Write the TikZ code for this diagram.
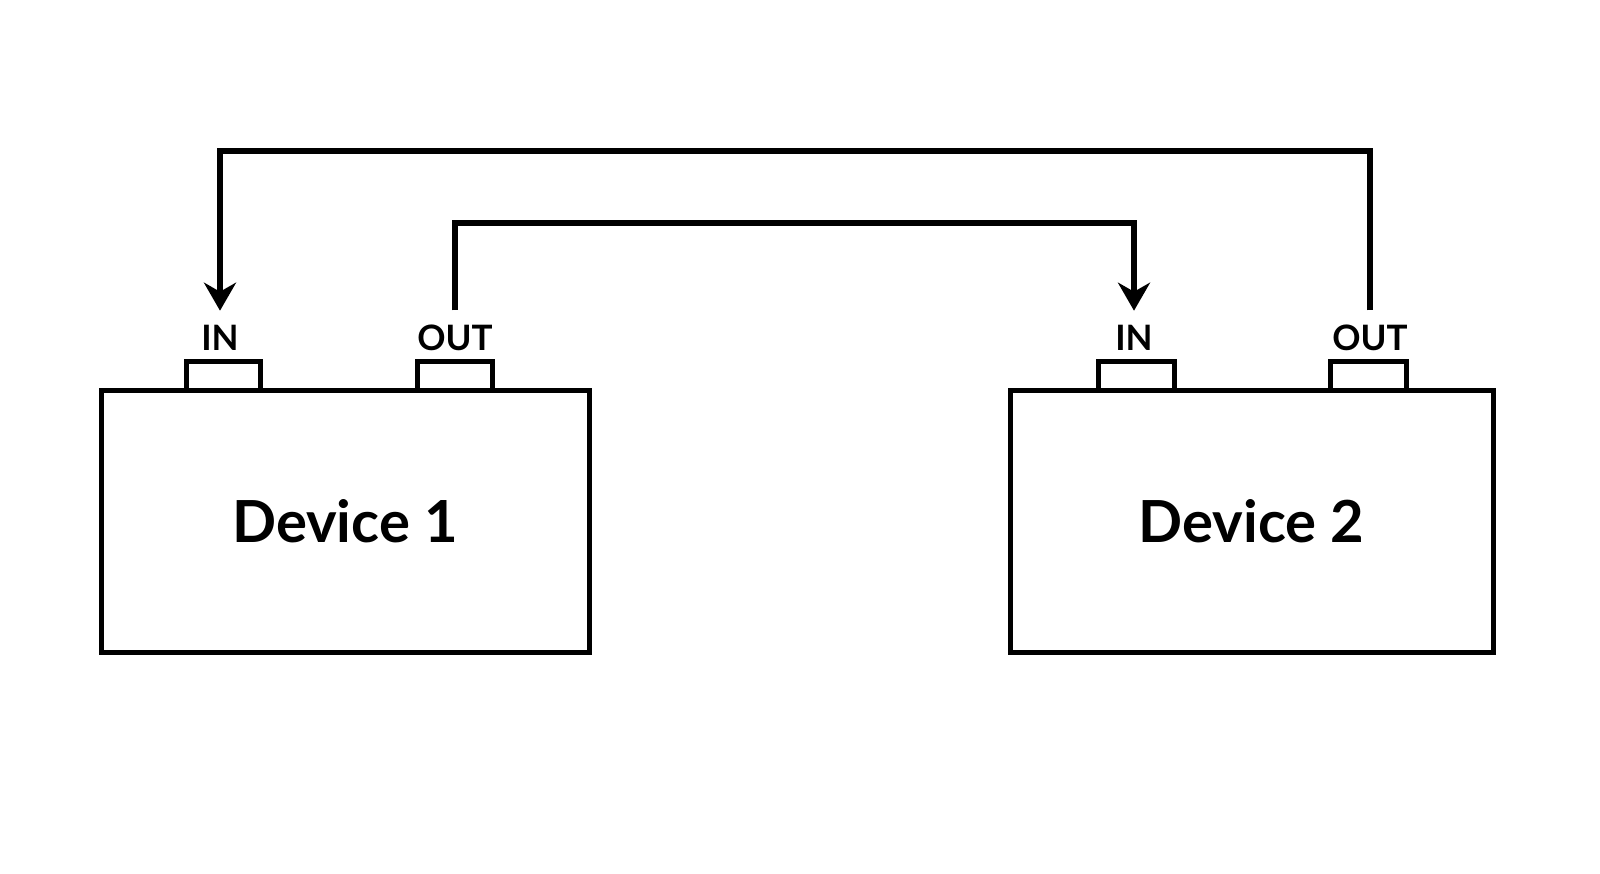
\documentclass[tikz,border=0pt]{standalone}
\usepackage{fontspec}
\setmainfont{Lato}[BoldFont={Lato Bold}]
\usetikzlibrary{arrows.meta}
\begin{document}
\begin{tikzpicture}[x=1pt,y=-1pt,
  devbox/.style={draw,line width=5pt,rectangle,inner sep=0pt,
    minimum height=262pt,font=\fontsize{58}{60}\selectfont\bfseries},
  portbox/.style={draw,line width=5pt,rectangle,inner sep=0pt,
    minimum width=74pt,minimum height=29pt},
  portlbl/.style={anchor=base,inner sep=0pt,outer sep=14pt,
    font=\fontsize{35}{36}\selectfont\bfseries},
  wire/.style={line width=5.5pt,line join=miter},
  arr/.style={wire,-{Stealth[length=28pt,width=32pt,inset=9pt]}}]
\useasboundingbox (0,0) rectangle (1600,873);
% ports
\node[portbox] (p1in)  at (223,375.5) {};
\node[portbox,minimum width=75pt] (p1out) at (455,375.5) {};
\node[portbox,minimum width=76pt] (p2in)  at (1136.5,375.5) {};
\node[portbox,minimum width=76pt] (p2out) at (1368.5,375.5) {};
% devices
\node[devbox,minimum width=488pt] (d1) at (345,521) {Device 1};
\node[devbox,minimum width=483pt] (d2) at (1251.5,521) {Device 2};
% labels
\node[portlbl] (l1in)  at (220,350) {IN};
\node[portlbl] (l1out) at (455,350) {OUT};
\node[portlbl] (l2in)  at (1134,350) {IN};
\node[portlbl] (l2out) at (1370,350) {OUT};
% connectors
\coordinate (top1) at (0,151);
\coordinate (top2) at (0,223);
\draw[arr] (l2out.north) |- (top1 -| l1in.north) -- (l1in.north);
\draw[arr] (l1out.north) |- (top2 -| l2in.north) -- (l2in.north);
\end{tikzpicture}
\end{document}
